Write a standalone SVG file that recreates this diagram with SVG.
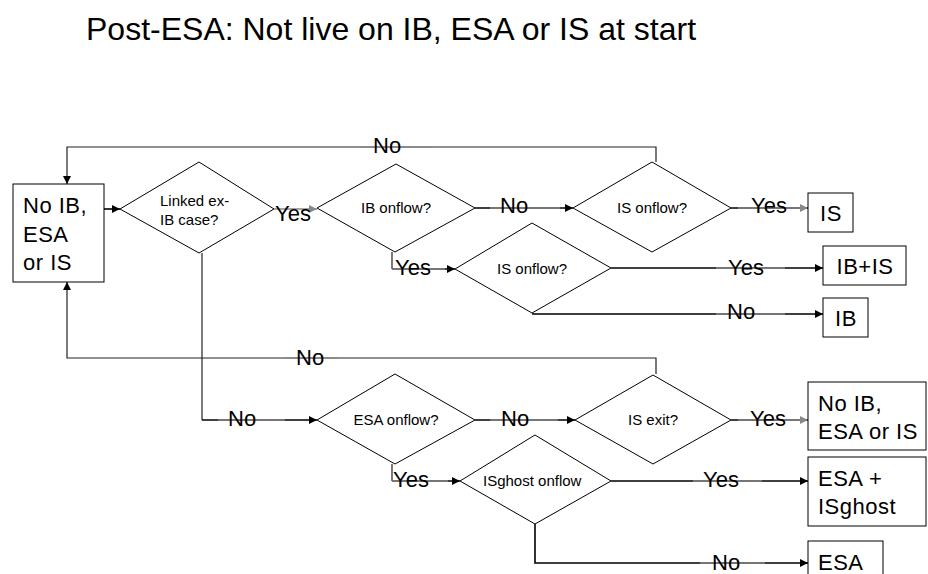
<svg xmlns="http://www.w3.org/2000/svg" width="928" height="574" viewBox="0 0 928 574">
<style>
.box{fill:#fff;stroke:#000;stroke-width:1}
.dia{fill:#fff;stroke:#000;stroke-width:1}
.bt{font-family:"Liberation Sans",Arial,sans-serif;font-size:22px;letter-spacing:0.5px;fill:#000}
.dt{font-family:"Liberation Sans",Arial,sans-serif;font-size:15px;fill:#000}
.lb{font-family:"Liberation Sans",Arial,sans-serif;font-size:22px;fill:#000}
.ln{fill:none;stroke:#000;stroke-width:1.6}
.thin{fill:none;stroke:#222;stroke-width:1.2}
.gr{fill:none;stroke:#888;stroke-width:1.6}
</style>
<defs>
<marker id="ah" viewBox="0 0 10 10" refX="10" refY="5" markerWidth="8" markerHeight="8" markerUnits="userSpaceOnUse" orient="auto"><path d="M0,0 L10,5 L0,10 z" fill="#000"/></marker>
<marker id="ahg" viewBox="0 0 10 10" refX="10" refY="5" markerWidth="8" markerHeight="8" markerUnits="userSpaceOnUse" orient="auto"><path d="M0,0 L10,5 L0,10 z" fill="#888"/></marker>
</defs>
<rect width="928" height="574" fill="#fff"/>
<text x="86" y="40" font-family="Liberation Sans, Arial, sans-serif" font-size="32" fill="#000">Post-ESA: Not live on IB, ESA or IS at start</text>

<g id="connectors">
<path class="thin" d="M656,162 V147 H67 V184" marker-end="url(#ah)"/>
<path class="gr" d="M360,147 H432" stroke-width="1.2"/>
<path class="thin" d="M656,374 V358 H67 V282" marker-end="url(#ah)"/>
<path class="gr" d="M284,358 H338" stroke-width="1.2"/>
<path class="ln" d="M104,209 H120" marker-end="url(#ah)"/>
<path class="gr" d="M274,209 H317" marker-end="url(#ahg)"/>
<path class="ln" d="M475,208 H573" marker-end="url(#ah)"/>
<path class="gr" d="M490,208 H560"/>
<path class="ln" d="M731,208 H808" marker-end="url(#ahg)"/>
<path class="gr" d="M738,208 H802"/>
<path class="thin" d="M392,252 V269" stroke="#888"/>
<path class="ln" d="M392,269 H455" marker-end="url(#ah)"/>
<path class="gr" d="M392,269 H445"/>
<path class="ln" d="M611,268 H823" marker-end="url(#ah)"/>
<path class="gr" d="M716,268 H785"/>
<path class="ln" d="M533,313 V314 H823" marker-end="url(#ah)"/>
<path class="gr" d="M716,314 H785"/>
<path class="thin" d="M202,253 V420"/>
<path class="ln" d="M202,420 H317" marker-end="url(#ah)"/>
<path class="gr" d="M218,420 H285"/>
<path class="ln" d="M475,420 H575" marker-end="url(#ah)"/>
<path class="gr" d="M490,420 H558"/>
<path class="ln" d="M731,420 H808" marker-end="url(#ahg)"/>
<path class="gr" d="M738,420 H802"/>
<path class="thin" d="M392,464 V481" stroke="#888"/>
<path class="ln" d="M392,481 H460" marker-end="url(#ah)"/>
<path class="gr" d="M392,481 H448"/>
<path class="ln" d="M611,481 H808" marker-end="url(#ah)"/>
<path class="gr" d="M693,481 H762"/>
<path class="ln" d="M535,524 V563 H808" marker-end="url(#ah)"/>
<path class="gr" d="M700,563 H765"/>
</g>

<g id="labels">
<text class="lb" x="373" y="153">No</text>
<text class="lb" x="296" y="365">No</text>
<text class="lb" x="275" y="221">Yes</text>
<text class="lb" x="500" y="213">No</text>
<text class="lb" x="751" y="213">Yes</text>
<text class="lb" x="395" y="275">Yes</text>
<text class="lb" x="728" y="275">Yes</text>
<text class="lb" x="727" y="319">No</text>
<text class="lb" x="228" y="426">No</text>
<text class="lb" x="501" y="426">No</text>
<text class="lb" x="750" y="426">Yes</text>
<text class="lb" x="393" y="487">Yes</text>
<text class="lb" x="703" y="487">Yes</text>
<text class="lb" x="712" y="570">No</text>
</g>

<g id="start">
<rect class="box" x="13" y="184" width="91" height="98"/>
<text class="bt" x="23" y="213">No IB,</text>
<text class="bt" x="23" y="242">ESA</text>
<text class="bt" x="23" y="270">or IS</text>
</g>
<g id="d-linked">
<polygon class="dia" points="120,209 199,162 274,209 199,253"/>
<text class="dt" x="160" y="206">Linked ex-</text>
<text class="dt" x="160" y="225">IB case?</text>
</g>
<g id="d-ibonflow">
<polygon class="dia" points="317,208 396,164 475,208 395,252"/>
<text class="dt" x="396" y="213" text-anchor="middle">IB onflow?</text>
</g>
<g id="d-isonflow1">
<polygon class="dia" points="573,208 652,162 731,208 652,252"/>
<text class="dt" x="652" y="213" text-anchor="middle">IS onflow?</text>
</g>
<g id="d-isonflow2">
<polygon class="dia" points="455,269 532,223 611,268 532,313"/>
<text class="dt" x="532" y="274" text-anchor="middle">IS onflow?</text>
</g>
<g id="d-esaonflow">
<polygon class="dia" points="317,420 395,374 475,420 395,464"/>
<text class="dt" x="396" y="425" text-anchor="middle">ESA onflow?</text>
</g>
<g id="d-isexit">
<polygon class="dia" points="575,420 653,375 731,420 653,464"/>
<text class="dt" x="653" y="425" text-anchor="middle">IS exit?</text>
</g>
<g id="d-isghost">
<polygon class="dia" points="460,481 535,435 611,481 535,524"/>
<text class="dt" x="483" y="486">ISghost onflow</text>
</g>
<g id="r-is">
<rect class="box" x="808" y="193" width="45" height="39"/>
<text class="bt" x="831" y="221" text-anchor="middle">IS</text>
</g>
<g id="r-ibis">
<rect class="box" x="823" y="246" width="83" height="39"/>
<text class="bt" x="865" y="274" text-anchor="middle">IB+IS</text>
</g>
<g id="r-ib">
<rect class="box" x="823" y="298" width="45" height="39"/>
<text class="bt" x="846" y="326" text-anchor="middle">IB</text>
</g>
<g id="r-none">
<rect class="box" x="808" y="382" width="118" height="68"/>
<text class="bt" x="818" y="411">No IB,</text>
<text class="bt" x="818" y="439">ESA or IS</text>
</g>
<g id="r-esaghost">
<rect class="box" x="808" y="457" width="118" height="69"/>
<text class="bt" x="818" y="486">ESA +</text>
<text class="bt" x="818" y="514">ISghost</text>
</g>
<g id="r-esa">
<rect class="box" x="808" y="541" width="75" height="40"/>
<text class="bt" x="818" y="570">ESA</text>
</g>
</svg>
